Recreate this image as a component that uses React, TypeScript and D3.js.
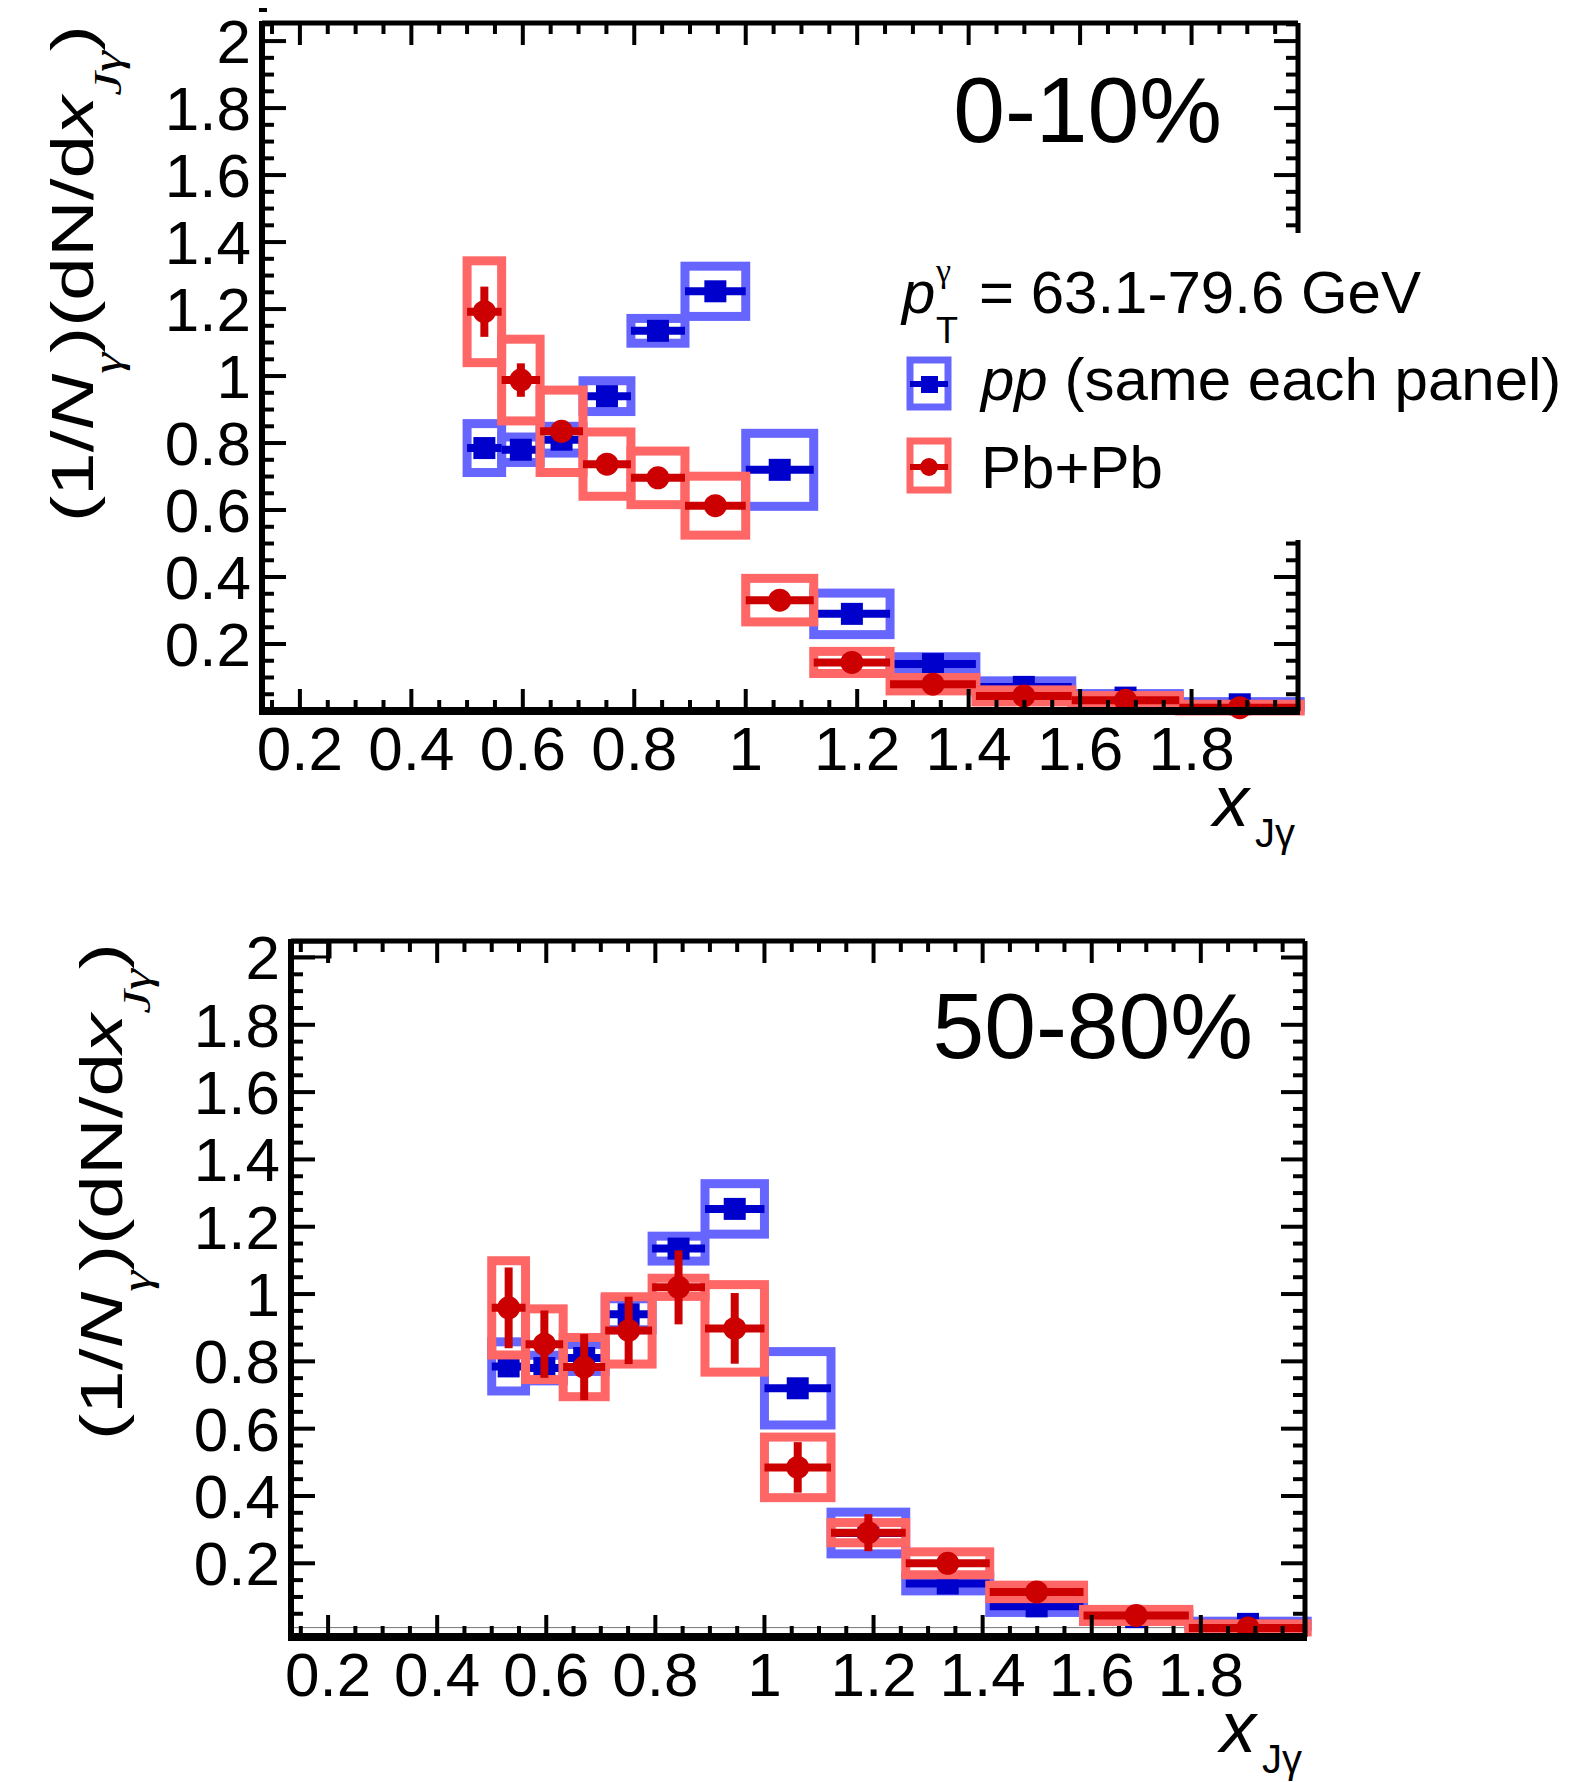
import React from "react";
import * as d3 from "d3";

// ---------- data ----------
const binEdges = [0.5, 0.562, 0.631, 0.708, 0.794, 0.891, 1.0, 1.122, 1.259, 1.413, 1.585, 1.778, 1.995];

const ppValues = [0.785, 0.78, 0.81, 0.94, 1.135, 1.253, 0.72, 0.29, 0.14, 0.072, 0.04, 0.02];
const ppStat = [0.02, 0.02, 0.02, 0.02, 0.02, 0.02, 0.015, 0.01, 0.008, 0.005, 0.004, 0.003];
const ppSys = [0.073, 0.038, 0.04, 0.046, 0.037, 0.075, 0.109, 0.062, 0.022, 0.018, 0.012, 0.008];

const pbCentralValues = [1.192, 0.988, 0.835, 0.737, 0.696, 0.613, 0.331, 0.145, 0.08, 0.045, 0.032, 0.01];
const pbCentralStat = [0.075, 0.05, 0.03, 0.025, 0.02, 0.02, 0.015, 0.01, 0.008, 0.006, 0.005, 0.004];
const pbCentralSys = [0.152, 0.122, 0.123, 0.096, 0.08, 0.088, 0.065, 0.033, 0.02, 0.018, 0.014, 0.01];

const pbPeriphValues = [0.959, 0.851, 0.783, 0.892, 1.02, 0.898, 0.485, 0.291, 0.2, 0.115, 0.045, 0.008];
const pbPeriphStat = [0.12, 0.1, 0.098, 0.1, 0.11, 0.105, 0.075, 0.055, 0.025, 0.015, 0.01, 0.006];
const pbPeriphSys = [0.14, 0.105, 0.088, 0.1, 0.027, 0.13, 0.09, 0.03, 0.034, 0.02, 0.018, 0.012];

const centralityLabels = ["0-10%", "50-80%"];
const xMajorTicks = [0.2, 0.4, 0.6, 0.8, 1.0, 1.2, 1.4, 1.6, 1.8];
const yMajorTicks = [0.2, 0.4, 0.6, 0.8, 1.0, 1.2, 1.4, 1.6, 1.8, 2.0];
const ptLabel = "= 63.1-79.6 GeV";
const ppLabel = " (same each panel)";
const pbLabel = "Pb+Pb";

// ---------- style ----------
const FONT = "'Liberation Sans', Arial, Helvetica, sans-serif";
const SERIF = "'Liberation Serif', 'Times New Roman', serif";
const BLUE_BOX = "#6666ff";
const BLUE = "#0000cc";
const RED_BOX = "#ff6666";
const RED = "#cc0000";
const X_DOMAIN: [number, number] = [0.132, 1.991];

const panels = [
  {
    label: centralityLabels[0],
    values: pbCentralValues, stat: pbCentralStat, sys: pbCentralSys,
    left: 262, right: 1298, top: 23, bottom: 711,
    yDomain: [0, 2.054] as [number, number],
    labelInset: 76, labelBaseline: 142, legend: true,
  },
  {
    label: centralityLabels[1],
    values: pbPeriphValues, stat: pbPeriphStat, sys: pbPeriphSys,
    left: 291, right: 1305, top: 941, bottom: 1637,
    yDomain: [-0.019, 2.049] as [number, number],
    labelInset: 52, labelBaseline: 1058, legend: false,
  },
];

type Sc = d3.ScaleLinear<number, number>;

function Boxes({ x, y, values, sys, color }: { x: Sc; y: Sc; values: number[]; sys: number[]; color: string }) {
  return (
    <g>
      {values.map((v, i) => {
        const lo = binEdges[i], hi = binEdges[i + 1];
        const yt = y(v + sys[i]), yb = y(v - sys[i]);
        return (
          <rect key={i} x={x(lo)} y={yt} width={x(hi) - x(lo)} height={Math.max(yb - yt, 0.5)}
            fill="none" stroke={color} strokeWidth={9} />
        );
      })}
    </g>
  );
}

function Points({ x, y, values, stat, color, marker }: { x: Sc; y: Sc; values: number[]; stat: number[]; color: string; marker: "square" | "circle" }) {
  return (
    <g>
      {values.map((v, i) => {
        const lo = binEdges[i], hi = binEdges[i + 1];
        const cx = x((lo + hi) / 2), cy = y(v);
        return (
          <g key={i}>
            <line x1={x(lo)} x2={x(hi)} y1={cy} y2={cy} stroke={color} strokeWidth={8} />
            <line x1={cx} x2={cx} y1={y(v - stat[i])} y2={y(v + stat[i])} stroke={color} strokeWidth={8} />
            {marker === "square" ? (
              <rect x={cx - 11} y={cy - 11} width={22} height={22} fill={color} />
            ) : (
              <circle cx={cx} cy={cy} r={11.5} fill={color} />
            )}
          </g>
        );
      })}
    </g>
  );
}

function Panel({ cfg }: { cfg: (typeof panels)[number] }) {
  const x = d3.scaleLinear().domain(X_DOMAIN).range([cfg.left, cfg.right]);
  const y = d3.scaleLinear().domain(cfg.yDomain).range([cfg.bottom, cfg.top]);
  const xMinor = d3.range(0.15, 1.99, 0.05).filter((v) => v >= X_DOMAIN[0] && v <= X_DOMAIN[1]);
  const yMinor = d3.range(0.05, 2.06, 0.05).filter((v) => v > cfg.yDomain[0] && v <= cfg.yDomain[1]);
  const fmt = (v: number) => String(+v.toFixed(1));
  const isMajor = (v: number, majors: number[]) => majors.some((m) => Math.abs(m - v) < 1e-6);
  const tickW = 4;

  return (
    <g>
      {/* zero line */}
      <line x1={cfg.left} x2={cfg.right} y1={y(0) - 3} y2={y(0) - 3} stroke="#777" strokeWidth={1} />

      {/* data */}
      <Boxes x={x} y={y} values={ppValues} sys={ppSys} color={BLUE_BOX} />
      <Points x={x} y={y} values={ppValues} stat={ppStat} color={BLUE} marker="square" />
      <Boxes x={x} y={y} values={cfg.values} sys={cfg.sys} color={RED_BOX} />
      <Points x={x} y={y} values={cfg.values} stat={cfg.stat} color={RED} marker="circle" />

      {/* ticks */}
      {xMinor.map((v, i) => {
        const len = isMajor(v, xMajorTicks) ? 22 : 11;
        return (
          <g key={"xt" + i}>
            <line x1={x(v)} x2={x(v)} y1={cfg.bottom} y2={cfg.bottom - len} stroke="#000" strokeWidth={tickW} />
            <line x1={x(v)} x2={x(v)} y1={cfg.top} y2={cfg.top + len} stroke="#000" strokeWidth={tickW} />
          </g>
        );
      })}
      {yMinor.map((v, i) => {
        const len = isMajor(v, yMajorTicks) ? 24 : 12;
        return (
          <g key={"yt" + i}>
            <line x1={cfg.left} x2={cfg.left + len} y1={y(v)} y2={y(v)} stroke="#000" strokeWidth={tickW} />
            <line x1={cfg.right} x2={cfg.right - len} y1={y(v)} y2={y(v)} stroke="#000" strokeWidth={tickW} />
          </g>
        );
      })}

      {/* frame */}
      <line x1={cfg.left} x2={cfg.right} y1={cfg.top} y2={cfg.top} stroke="#000" strokeWidth={5} />
      <line x1={cfg.right} x2={cfg.right} y1={cfg.top} y2={cfg.bottom} stroke="#000" strokeWidth={5} />
      <line x1={cfg.left} x2={cfg.left} y1={cfg.top - 2} y2={cfg.bottom + 4} stroke="#000" strokeWidth={6} />
      <line x1={cfg.left - 3} x2={cfg.right + 2} y1={cfg.bottom} y2={cfg.bottom} stroke="#000" strokeWidth={8} />

      {/* tick labels */}
      {xMajorTicks.map((v, i) => (
        <text key={"xl" + i} x={x(v)} y={cfg.bottom + 59} textAnchor="middle" fontFamily={FONT} fontSize={62}>
          {fmt(v)}
        </text>
      ))}
      {yMajorTicks.map((v, i) => (
        <text key={"yl" + i} x={cfg.left - 11} y={y(v) + 22} textAnchor="end" fontFamily={FONT} fontSize={62}>
          {fmt(v)}
        </text>
      ))}

      {/* x title */}
      <text x={cfg.right - 3} y={cfg.bottom + 115} textAnchor="end" fontFamily={FONT} fontSize={72}>
        <tspan fontStyle="italic">x</tspan>
        <tspan fontSize={40} dx={6} dy={21}>Jγ</tspan>
      </text>

      {/* y title */}
      <g transform={`translate(${cfg.left - 169}, ${cfg.top + 2}) rotate(-90) scale(1.33,1)`}>
        <text x={0} y={0} textAnchor="end" fontFamily={FONT} fontSize={59}>
          <tspan>(1/</tspan>
          <tspan fontStyle="italic">N</tspan>
          <tspan fontFamily={SERIF} fontStyle="italic" fontSize={40} dy={28}>γ</tspan>
          <tspan dy={-28}>)(d</tspan>
          <tspan>N/d</tspan>
          <tspan fontStyle="italic">x</tspan>
          <tspan fontFamily={SERIF} fontStyle="italic" fontSize={40} dy={28}>Jγ</tspan>
          <tspan dy={-28}>)</tspan>
        </text>
      </g>

      {/* centrality label */}
      <text x={cfg.right - cfg.labelInset} y={cfg.labelBaseline} textAnchor="end" fontFamily={FONT} fontSize={93}>
        {cfg.label}
      </text>

      {cfg.legend && (
        <g>
          <rect x={880} y={233} width={689} height={307} fill="#fff" />
          <text x={902} y={313} fontFamily={FONT} fontSize={60}>
            <tspan fontStyle="italic">p</tspan>
          </text>
          <text x={936} y={282} fontFamily={SERIF} fontSize={34}>γ</text>
          <text x={936} y={343} fontFamily={FONT} fontSize={36}>T</text>
          <text x={979} y={313} fontFamily={FONT} fontSize={60}>{ptLabel}</text>

          <rect x={910} y={360} width={38} height={47} fill="none" stroke={BLUE_BOX} strokeWidth={7} />
          <line x1={910} x2={948} y1={384} y2={384} stroke={BLUE} strokeWidth={6} />
          <rect x={921} y={376} width={17} height={17} fill={BLUE} />
          <text x={981} y={400} fontFamily={FONT} fontSize={60}>
            <tspan fontStyle="italic">pp</tspan>
            <tspan>{ppLabel}</tspan>
          </text>

          <rect x={910} y={441} width={38} height={49} fill="none" stroke={RED_BOX} strokeWidth={7} />
          <line x1={910} x2={948} y1={467} y2={467} stroke={RED} strokeWidth={6} />
          <circle cx={929} cy={467} r={9} fill={RED} />
          <text x={981} y={488} fontFamily={FONT} fontSize={60}>{pbLabel}</text>
        </g>
      )}
    </g>
  );
}

export default function App() {
  return (
    <svg width={1569} height={1782} style={{ position: "absolute", left: 0, top: 0, background: "#fff" }}>
      <rect x={0} y={0} width={1569} height={1782} fill="#fff" />
      {panels.map((p, i) => (
        <Panel key={i} cfg={p} />
      ))}
      {/* small residual marks seen in the reference */}
      <rect x={259} y={8} width={8} height={4} fill="#000" />
      <rect x={292} y={942} width={38} height={15} fill="none" stroke="#000" strokeWidth={3} />
    </svg>
  );
}
